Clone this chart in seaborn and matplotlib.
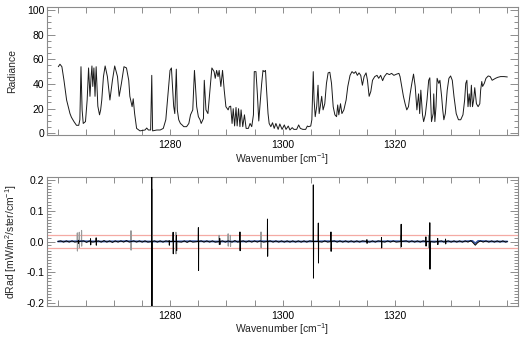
import numpy as np
import pandas as pd
import matplotlib
matplotlib.use("Agg")
import matplotlib.pyplot as plt
import seaborn as sns
from matplotlib.ticker import MultipleLocator, FixedLocator, FuncFormatter

# ---------------- data ----------------
wn_rad = [1260.06, 1260.36, 1260.7, 1261.07, 1261.54, 1262.14, 1262.4, 1262.85, 1263.3, 1263.7,
          1263.9, 1264.1, 1264.3, 1264.5, 1264.9, 1265.2, 1265.45, 1265.7, 1265.9, 1266.05,
          1266.2, 1266.4, 1266.6, 1266.8, 1266.95, 1267.1, 1267.4, 1267.6, 1267.8, 1268.1,
          1268.4, 1268.8, 1269.25, 1269.7, 1270.1, 1270.6, 1270.9, 1271.3, 1271.75, 1272.2,
          1272.6, 1272.8, 1273.2, 1273.4, 1273.65, 1274.0, 1274.6, 1275.5, 1275.8, 1276.1,
          1276.5, 1276.7, 1276.85, 1277.6, 1278.2, 1278.75, 1279.2, 1279.5, 1279.95, 1280.2,
          1280.4, 1280.6, 1280.8, 1281.07, 1281.25, 1281.5, 1281.8, 1282.1, 1282.4, 1282.9,
          1283.3, 1283.6, 1284.0, 1284.3, 1284.45, 1284.7, 1285.0, 1285.3, 1285.5, 1285.9,
          1286.05, 1286.35, 1286.7, 1287.05, 1287.4, 1287.8, 1288.0, 1288.25, 1288.5, 1288.7,
          1289.0, 1289.3, 1289.6, 1289.9, 1290.3, 1290.5, 1290.75, 1291.0, 1291.2, 1291.45,
          1291.7, 1291.9, 1292.15, 1292.4, 1292.6, 1292.9, 1293.2, 1293.5, 1293.9, 1294.2,
          1294.5, 1294.8, 1294.95, 1295.25, 1295.5, 1295.75, 1296.26, 1296.5, 1296.7, 1296.95,
          1297.1, 1297.4, 1297.6, 1297.9, 1298.2, 1298.5, 1298.8, 1299.2, 1299.5, 1299.9,
          1300.3, 1300.6, 1301.0, 1301.3, 1301.7, 1302.0, 1302.5, 1302.85, 1303.15, 1303.6,
          1304.1, 1304.4, 1304.6, 1305.0, 1305.2, 1305.45, 1305.6, 1305.8, 1306.06, 1306.3,
          1306.5, 1306.7, 1306.95, 1307.2, 1307.5, 1307.8, 1308.1, 1308.4, 1308.7, 1309.0,
          1309.3, 1309.6, 1309.8, 1310.0, 1310.3, 1310.55, 1310.9, 1311.3, 1311.6, 1312.0,
          1312.35, 1312.7, 1313.0, 1313.3, 1313.6, 1313.9, 1314.2, 1314.5, 1314.85, 1315.1,
          1315.4, 1315.7, 1316.0, 1316.4, 1316.8, 1317.1, 1317.45, 1317.8, 1318.1, 1318.55,
          1319.0, 1319.4, 1319.8, 1320.3, 1320.7, 1320.9, 1321.2, 1321.5, 1321.8, 1322.1,
          1322.4, 1322.7, 1323.0, 1323.3, 1323.6, 1323.9, 1324.2, 1324.4, 1324.6, 1324.9,
          1325.1, 1325.4, 1325.7, 1326.0, 1326.2, 1326.4, 1326.5, 1326.8, 1326.9, 1327.1,
          1327.3, 1327.5, 1327.8, 1328.0, 1328.3, 1328.5, 1328.7, 1328.96, 1329.3, 1329.6,
          1329.9, 1330.2, 1330.5, 1330.9, 1331.3, 1331.7, 1332.1, 1332.4, 1332.6, 1332.8,
          1333.0, 1333.2, 1333.4, 1333.6, 1333.8, 1334.0, 1334.2, 1334.5, 1334.8, 1335.1,
          1335.25, 1335.45, 1335.6, 1335.9, 1336.2, 1336.6, 1336.95, 1337.3, 1337.6, 1337.9,
          1338.3, 1338.8, 1339.4, 1340.0]
radiance = [54, 56, 54, 43, 27, 16, 13, 9.5, 6.5, 6.5,
            11, 54, 19, 8, 9.5, 27, 53, 30, 46, 54.6,
            38, 53, 30, 54, 38, 22, 15, 19, 27, 46,
            54.6, 46, 27, 43, 54.6, 46, 30, 40.5, 54, 53,
            43, 30, 21.6, 28, 16, 4, 2, 2.7, 4.3, 2.7,
            2.7, 47, 2, 2.7, 2.7, 4, 11, 27, 51, 53,
            38, 22, 16, 52, 19, 11, 8, 6.8, 5.4, 5.4,
            8, 15, 19, 51, 40.5, 21.6, 13.5, 11, 8, 12,
            43, 19, 16, 35, 53, 50, 44.6, 51, 46, 51,
            38, 51, 35, 21.6, 19, 21.6, 22, 8, 20, 6,
            21, 6, 20, 5.4, 19, 5.4, 15, 4, 4, 8,
            5.4, 15, 50, 50, 32, 10, 40, 51, 50, 51,
            38, 16, 8, 5.4, 8.6, 4, 8, 3.2, 7.6, 3.2,
            6.8, 3.2, 5.9, 2.7, 4.6, 3.2, 3.2, 6.8, 4, 3.2,
            3.2, 5.9, 5.4, 5.9, 11, 50, 27, 13.5, 21.6, 39,
            16, 21.6, 30, 19, 24, 40.5, 49, 49.5, 40.5, 21.6,
            15, 13.5, 23, 15, 24, 16, 19, 27, 38, 47,
            50, 48.6, 50, 47, 49, 47, 39, 46, 49, 43,
            30, 34, 43, 46, 47, 44.6, 47, 42.7, 46, 48.6,
            47.6, 48.6, 47, 48, 48.6, 46, 38, 30, 24, 19,
            21.6, 32, 40.5, 48, 38, 19, 32, 16, 35, 15,
            9.5, 15, 27, 43, 45, 21.6, 9.5, 16, 32, 9.5,
            21.6, 44.6, 40.5, 43, 30, 19, 11, 16, 35, 44.6,
            46.5, 43, 30, 16, 11, 11, 15, 27, 40.5, 43,
            21.6, 32, 21.6, 39, 21.6, 27, 37, 24, 21.6, 24,
            35, 42, 38, 40.5, 44.6, 46.5, 46, 43, 43.8, 44.6,
            45.4, 46, 46, 45.7]

# residual (black): small background wiggle
wn_base = [1260.0, 1260.5, 1261.0, 1261.5, 1262.0, 1262.5, 1263.0, 1264.6, 1265.1, 1265.6,
           1266.2, 1267.2, 1267.7, 1268.2, 1268.7, 1269.2, 1269.7, 1270.2, 1270.7, 1271.2,
           1271.7, 1272.2, 1272.7, 1273.5, 1274.0, 1274.5, 1275.0, 1275.5, 1276.0, 1277.2,
           1277.7, 1278.2, 1278.7, 1279.2, 1282.0, 1282.5, 1283.0, 1283.5, 1284.0, 1285.5,
           1286.0, 1286.5, 1287.0, 1287.5, 1288.0, 1289.3, 1289.8, 1290.3, 1291.0, 1291.5,
           1292.0, 1293.0, 1293.5, 1294.0, 1294.5, 1295.0, 1295.5, 1296.0, 1296.6, 1297.8,
           1298.3, 1298.8, 1299.3, 1299.8, 1300.3, 1300.8, 1301.3, 1301.8, 1302.3, 1302.8,
           1303.3, 1303.8, 1304.3, 1304.8, 1307.0, 1307.5, 1308.0, 1309.2, 1309.7, 1310.2,
           1310.7, 1311.2, 1311.7, 1312.2, 1312.7, 1313.2, 1313.7, 1314.2, 1315.5, 1316.0,
           1316.5, 1317.0, 1318.2, 1318.7, 1319.2, 1319.7, 1320.2, 1322.0, 1322.5, 1323.0,
           1323.5, 1324.0, 1324.5, 1325.0, 1327.0, 1328.3, 1328.7, 1329.5, 1330.0, 1330.5,
           1331.0, 1331.5, 1332.0, 1332.5, 1333.0, 1333.5, 1333.9, 1334.3, 1334.7, 1335.2,
           1335.7, 1336.2, 1336.7, 1337.2, 1337.7, 1338.2, 1338.7, 1339.2, 1339.7, 1340.0]
drad_base = [0.0, 0.002, -0.002, 0.002, -0.002, 0.002, -0.002, 0.002, -0.003, 0.002,
             -0.002, 0.002, -0.002, 0.003, -0.002, 0.002, -0.003, 0.002, -0.002, 0.002,
             -0.002, 0.003, -0.002, 0.002, -0.002, 0.002, -0.002, 0.002, -0.002, 0.002,
             -0.002, 0.002, -0.002, 0.002, -0.002, 0.002, -0.003, 0.002, -0.002, 0.002,
             -0.002, 0.002, -0.002, 0.002, -0.002, 0.002, -0.002, 0.002, -0.002, 0.003,
             -0.002, 0.002, -0.002, 0.002, -0.002, 0.002, -0.002, 0.002, -0.002, 0.002,
             -0.002, 0.002, -0.002, 0.002, -0.002, 0.002, -0.002, 0.002, -0.002, 0.002,
             -0.002, 0.002, -0.002, 0.002, -0.002, 0.002, -0.002, 0.002, -0.002, 0.002,
             -0.002, 0.002, -0.002, 0.002, -0.002, 0.002, -0.002, 0.002, -0.002, 0.002,
             -0.002, 0.002, -0.002, 0.002, -0.002, 0.002, -0.002, 0.002, -0.002, 0.002,
             -0.002, 0.002, -0.002, 0.002, -0.002, 0.002, -0.002, 0.002, -0.002, 0.002,
             -0.002, 0.002, -0.002, 0.002, -0.002, 0.003, -0.004, -0.012, -0.004, 0.002,
             -0.002, 0.002, -0.002, 0.002, -0.002, 0.002, -0.002, 0.002, -0.002, 0.0]

# residual (black): sharp features  (position, max, min)
spike_wn = [1263.64, 1265.8, 1266.8, 1276.7, 1279.8, 1280.5, 1281.1, 1285.0, 1288.8, 1292.4,
            1297.3, 1305.46, 1306.35, 1308.6, 1315.0, 1317.6, 1321.1, 1325.5, 1326.2, 1327.6,
            1329.0]
spike_hi = [0.004, 0.009, 0.012, 0.25, 0.003, 0.03, 0.02, 0.045, 0.01, 0.031,
            0.073, 0.184, 0.06, 0.031, 0.006, 0.013, 0.056, 0.015, 0.061, 0.01,
            0.008]
spike_lo = [-0.006, -0.011, -0.012, -0.25, -0.012, -0.04, -0.03, -0.094, -0.01, -0.03,
            -0.048, -0.119, -0.07, -0.032, -0.006, -0.021, -0.016, -0.015, -0.09, -0.01,
            -0.008]

# residual (grey) features (position, max, min)
gspike_wn = [1263.45, 1263.8, 1264.2, 1273.0, 1276.76, 1281.0, 1288.7, 1290.3, 1290.7, 1296.15,
             1321.0, 1326.0]
gspike_hi = [0.028, 0.03, 0.036, 0.035, 0.17, 0.03, 0.02, 0.025, 0.02, 0.031,
             0.02, 0.02]
gspike_lo = [-0.031, -0.02, -0.015, -0.028, -0.19, -0.04, -0.01, -0.015, -0.016, -0.02,
             -0.02, -0.02]

# smooth residual (blue)
wn_blue = [1260.0, 1264.0, 1268.0, 1272.0, 1276.0, 1280.0, 1284.0, 1288.0, 1292.0, 1296.0,
           1300.0, 1304.0, 1308.0, 1312.0, 1316.0, 1320.0, 1324.0, 1328.0, 1332.0, 1333.8,
           1334.3, 1334.8, 1337.0, 1340.0]
drad_blue = [0.0, 0.001, 0.0, 0.001, 0.0, 0.0, 0.001, 0.0, 0.0, 0.001,
             0.0, 0.0, 0.001, 0.0, 0.0, 0.001, 0.0, 0.0, 0.0, 0.002,
             -0.006, 0.002, 0.0, 0.0]

limit_lines = [0.02, -0.02]

# ---------------- build tables ----------------
rows = list(zip(wn_base, drad_base))
for w, hi, lo in zip(spike_wn, spike_hi, spike_lo):
    rows += [(w - 0.03, 0.0), (w, hi), (w + 0.03, lo), (w + 0.06, 0.0)]
df_d = pd.DataFrame(sorted(rows), columns=['wn', 'd'])

grows = []
for i, (w, hi, lo) in enumerate(zip(gspike_wn, gspike_hi, gspike_lo)):
    grows += [(i, w - 0.02, 0.0), (i, w, hi), (i, w + 0.02, lo), (i, w + 0.04, 0.0)]
df_gray = pd.DataFrame(grows, columns=['id', 'wn', 'd'])

# ---------------- style ----------------
sns.set_style("ticks")
plt.rcParams['font.family'] = ['Liberation Sans', 'DejaVu Sans']
plt.rcParams['mathtext.fontset'] = 'custom'
plt.rcParams['mathtext.rm'] = 'Liberation Sans'
plt.rcParams['mathtext.it'] = 'Liberation Sans'
plt.rcParams['mathtext.default'] = 'regular'

FS = 7.5
frame = '#8c8c8c'

fig = plt.figure(figsize=(5.27, 3.38), dpi=100)
ax1 = fig.add_axes([47/527, 1 - 135.3/338, 471/527, 128.3/338])
ax2 = fig.add_axes([47/527, 1 - 306/338, 471/527, 129/338])

df_rad = pd.DataFrame({'wn': wn_rad, 'rad': radiance})
sns.lineplot(data=df_rad, x='wn', y='rad', ax=ax1, color='#1a1a1a', lw=0.7,
             sort=False, estimator=None)

for v in limit_lines:
    ax2.axhline(v, color='#f4aaa4', lw=0.9, zorder=1)

sns.lineplot(data=df_gray, x='wn', y='d', units='id', ax=ax2, color='#9a9a9a', lw=0.8,
             sort=False, estimator=None, zorder=2)
df_blue = pd.DataFrame({'wn': wn_blue, 'd': drad_blue})
sns.lineplot(data=df_blue, x='wn', y='d', ax=ax2, color='#3a5aa8', lw=1.3,
             sort=False, estimator=None, zorder=3)
sns.lineplot(data=df_d, x='wn', y='d', ax=ax2, color='black', lw=0.7,
             sort=False, estimator=None, zorder=4)

for ax in (ax1, ax2):
    ax.set_xlim(1258.05, 1341.9)
ax1.set_ylim(-1.6, 102.4)
ax2.set_ylim(-0.2097, 0.2097)

for ax in (ax1, ax2):
    ax.xaxis.set_major_locator(FixedLocator([1280, 1300, 1320]))
    ax.xaxis.set_minor_locator(MultipleLocator(5))
    ax.tick_params(which='both', direction='in', top=True, right=True,
                   color=frame, labelsize=FS, labelcolor='black', width=0.7)
    ax.tick_params(axis='x', which='major', length=4, pad=3.5)
    ax.tick_params(axis='x', which='minor', length=4)
    ax.tick_params(axis='y', which='major', length=6, pad=2)
    ax.tick_params(axis='y', which='minor', length=3)
    for s in ax.spines.values():
        s.set_color(frame)
        s.set_linewidth(0.8)
    ax.set_xlabel('Wavenumber [cm$^{-1}$]', fontsize=FS, labelpad=0.5)

ax1.yaxis.set_major_locator(MultipleLocator(20))
ax1.yaxis.set_minor_locator(MultipleLocator(5))
ax1.set_ylabel('Radiance', fontsize=FS, labelpad=7)

ax2.yaxis.set_major_locator(MultipleLocator(0.1))
ax2.yaxis.set_minor_locator(MultipleLocator(0.01))
ax2.yaxis.set_major_formatter(FuncFormatter(lambda v, p: f'{v:.1f}'))
ax2.set_ylabel('dRad [mW/m$^{2}$/ster/cm$^{-1}$]', fontsize=FS, labelpad=5)

fig.savefig('out.png', dpi=100)
